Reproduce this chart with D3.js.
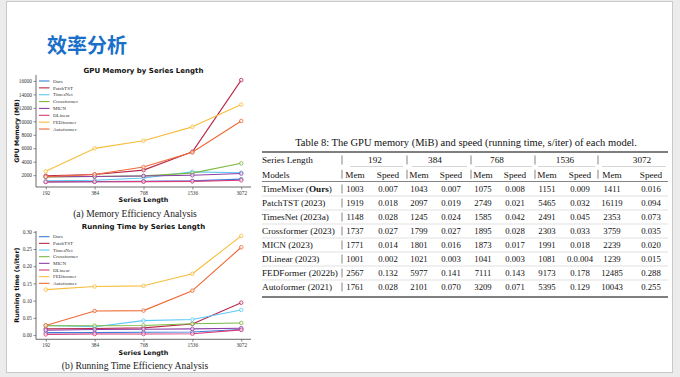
<!DOCTYPE html>
<html>
<head>
<meta charset="utf-8">
<script src="https://cdn.jsdelivr.net/npm/d3@7"></script>
<style>
  body { margin: 0; background: #ececec; }
  svg { display: block; }
</style>
</head>
<body>
<div id="slide"></div>
<script>
// Données du tableau 8 (mémoire GPU en MiB, vitesse en s/iter)
const seriesLengths = ["192", "384", "768", "1536", "3072"];
const models = ["Ours", "PatchTST", "TimesNet", "Crossformer", "MICN", "DLinear", "FEDformer", "Autoformer"];
const tableModels = ["TimeMixer", "PatchTST (2023)", "TimesNet (2023a)", "Crossformer (2023)", "MICN (2023)", "DLinear (2023)", "FEDFormer (2022b)", "Autoformer (2021)"];
const colors = ["#3c7ddb", "#b8284a", "#5cc9f7", "#7cb843", "#8e3fa8", "#d93a78", "#f7bd3c", "#ef6935"];

const memData = [
    [1003, 1043, 1075, 1151, 1411],
    [1919, 2097, 2749, 5465, 16119],
    [1148, 1245, 1585, 2491, 2353],
    [1737, 1799, 1895, 2303, 3759],
    [1771, 1801, 1873, 1991, 2239],
    [1001, 1021, 1041, 1081, 1239],
    [2567, 5977, 7111, 9173, 12485],
    [1761, 2101, 3209, 5395, 10043]
];
const speedData = [
    [0.007, 0.007, 0.008, 0.009, 0.016],
    [0.018, 0.019, 0.021, 0.032, 0.094],
    [0.028, 0.024, 0.042, 0.045, 0.073],
    [0.027, 0.027, 0.028, 0.033, 0.035],
    [0.014, 0.016, 0.017, 0.018, 0.020],
    [0.002, 0.003, 0.003, 0.004, 0.015],
    [0.132, 0.141, 0.143, 0.178, 0.288],
    [0.028, 0.070, 0.071, 0.129, 0.255]
];
const memTicks = [2000, 4000, 6000, 8000, 10000, 12000, 14000, 16000];
const speedTicks = [0, 0.05, 0.10, 0.15, 0.20, 0.25, 0.30];
// texte tel qu'imprimé dans le tableau (coquille d'origine)
const speedTextOverride = { "5-3": "0.0.004" };

const W = 680, H = 377;
const svg = d3.select("#slide").append("svg").attr("width", W).attr("height", H);

// Fond de la diapo
svg.append("rect").attr("x", 0).attr("y", 0).attr("width", W).attr("height", H).attr("fill", "#ececec");
svg.append("rect").attr("x", 6.5).attr("y", 1.5).attr("width", 666).attr("height", 371)
    .attr("fill", "#fff").attr("stroke", "#c9c9c9").attr("stroke-width", 1);

svg.append("text")
    .attr("x", 47).attr("y", 52.5)
    .attr("font-family", "'Noto Sans CJK SC', sans-serif")
    .attr("font-weight", 700).attr("font-size", 20)
    .attr("fill", "#1a6fc9")
    .text("效率分析");

/**
 * Petit graphique en lignes façon matplotlib.
 */
function drawLineChart(cfg) {
    const g = svg.append("g");
    const x = d3.scalePoint().domain(d3.range(seriesLengths.length))
        .range([cfg.left, cfg.right]).padding(0.2);
    const y = d3.scaleLinear().domain(cfg.yDomain).range([cfg.bottom, cfg.top]);

    // Titre
    g.append("text").attr("x", (cfg.left + cfg.right) / 2).attr("y", cfg.titleY)
        .attr("text-anchor", "middle")
        .attr("font-family", "'DejaVu Sans', sans-serif")
        .attr("font-weight", 700).attr("font-size", 7)
        .attr("fill", "#111").text(cfg.title);

    // Axe Y
    const yAxis = d3.axisLeft(y).tickValues(cfg.yTicks).tickSize(2.5).tickPadding(1.5)
        .tickFormat(cfg.yFormat);
    const ya = g.append("g").attr("transform", `translate(${cfg.left},0)`).call(yAxis);
    ya.select(".domain").attr("d", `M0,${cfg.top}V${cfg.bottom}`);

    // Axe X
    const xAxis = d3.axisBottom(x).tickSize(2.5).tickPadding(1.5)
        .tickFormat(i => seriesLengths[i]);
    const xa = g.append("g").attr("transform", `translate(0,${cfg.bottom})`).call(xAxis);
    xa.select(".domain").attr("d", `M${cfg.left},0H${cfg.right}`);

    g.selectAll(".domain").attr("stroke", "#444").attr("stroke-width", 0.8);
    g.selectAll(".tick line").attr("stroke", "#444").attr("stroke-width", 0.6);
    g.selectAll(".tick text")
        .attr("font-family", "'Liberation Serif', serif")
        .attr("font-size", 5.3).attr("fill", "#333");

    // Libellés d'axes
    g.append("text").attr("x", (cfg.left + cfg.right) / 2).attr("y", cfg.xLabelY)
        .attr("text-anchor", "middle")
        .attr("font-family", "'DejaVu Sans', sans-serif")
        .attr("font-weight", 700).attr("font-size", 6.4)
        .attr("fill", "#111").text("Series Length");
    g.append("text")
        .attr("transform", `translate(19,${(cfg.top + cfg.bottom) / 2}) rotate(-90)`)
        .attr("text-anchor", "middle")
        .attr("font-family", "'DejaVu Sans', sans-serif")
        .attr("font-weight", 700).attr("font-size", cfg.yLabelSize)
        .attr("fill", "#111").text(cfg.yLabel);

    // Séries
    const line = d3.line().x((d, i) => x(i)).y(d => y(d));
    cfg.data.forEach((vals, k) => {
        g.append("path").attr("d", line(vals))
            .attr("fill", "none").attr("stroke", colors[k])
            .attr("stroke-width", 1.1).attr("stroke-linejoin", "round");
        g.selectAll(null).data(vals).enter().append("circle")
            .attr("cx", (d, i) => x(i)).attr("cy", d => y(d)).attr("r", 1.8)
            .attr("fill", "#fff").attr("fill-opacity", 0.6)
            .attr("stroke", colors[k]).attr("stroke-width", 0.8);
    });

    // Légende
    const leg = g.append("g");
    models.forEach((m, k) => {
        const ly = cfg.legendY + k * cfg.legendStep;
        leg.append("line").attr("x1", 39).attr("x2", 49.5).attr("y1", ly).attr("y2", ly)
            .attr("stroke", colors[k]).attr("stroke-width", 1.1);
        leg.append("text").attr("x", 53).attr("y", ly + 1.7)
            .attr("font-family", "'Liberation Serif', serif")
            .attr("font-size", 5).attr("fill", "#333").text(m);
    });

    // Légende de figure
    g.append("text").attr("x", 135).attr("y", cfg.captionY)
        .attr("text-anchor", "middle")
        .attr("font-family", "'Liberation Serif', serif")
        .attr("font-size", 9.6).attr("fill", "#222").text(cfg.caption);
}

drawLineChart({
    title: "GPU Memory by Series Length", titleY: 72.5,
    left: 36, right: 251, top: 75, bottom: 187,
    yDomain: [245, 16875], yTicks: memTicks, yFormat: d3.format("d"),
    yLabel: "GPU Memory (MB)", yLabelSize: 6.2,
    xLabelY: 201.5, data: memData,
    legendY: 81, legendStep: 6.86,
    caption: "(a) Memory Efficiency Analysis", captionY: 217
});

drawLineChart({
    title: "Running Time by Series Length", titleY: 228.5,
    left: 36, right: 251, top: 231, bottom: 339.3,
    yDomain: [-0.0123, 0.3023], yTicks: speedTicks, yFormat: d3.format(".2f"),
    yLabel: "Running time (s/iter)", yLabelSize: 6.4,
    xLabelY: 355, data: speedData,
    legendY: 236.7, legendStep: 6.66,
    caption: "(b) Running Time Efficiency Analysis", captionY: 369
});

// Tableau 8
const tbl = svg.append("g")
    .attr("font-family", "'Liberation Serif', 'Times New Roman', serif")
    .attr("fill", "#111");
const tLeft = 262, tRight = 668;
const memX = [355, 419, 483, 547, 612];
const speedX = [388, 451, 515, 580, 651];
const groupX = [375, 435, 497, 565, 642];
const barX = [342, 407, 471, 535, 598];
const cmid = [[350, 403], [412, 467], [475, 532], [538, 595], [602, 666]];
const fs = 9.2, fsNum = 8.7;

tbl.append("text").attr("x", 466).attr("y", 146)
    .attr("text-anchor", "middle").attr("font-size", 10.5)
    .text("Table 8: The GPU memory (MiB) and speed (running time, s/iter) of each model.");

function hrule(y, w, c) {
    tbl.append("line").attr("x1", tLeft).attr("x2", tRight).attr("y1", y).attr("y2", y)
        .attr("stroke", c).attr("stroke-width", w);
}
function vbar(xx, cy) {
    tbl.append("line").attr("x1", xx).attr("x2", xx).attr("y1", cy - 4.5).attr("y2", cy + 4.5)
        .attr("stroke", "#333").attr("stroke-width", 0.6);
}

hrule(152, 1.4, "#555");
// ligne 1 : longueurs
tbl.append("text").attr("x", tLeft).attr("y", 163.2).attr("font-size", fs).text("Series Length");
seriesLengths.forEach((s, i) => {
    tbl.append("text").attr("x", groupX[i]).attr("y", 163.2).attr("text-anchor", "middle")
        .attr("font-size", fs).text(s);
    vbar(barX[i], 160);
    tbl.append("line").attr("x1", cmid[i][0]).attr("x2", cmid[i][1]).attr("y1", 166.5).attr("y2", 166.5)
        .attr("stroke", "#bbb").attr("stroke-width", 0.6);
});
// ligne 2 : Mem / Speed
tbl.append("text").attr("x", tLeft).attr("y", 177.5).attr("font-size", fs).text("Models");
seriesLengths.forEach((s, i) => {
    tbl.append("text").attr("x", memX[i]).attr("y", 177.5).attr("text-anchor", "middle")
        .attr("font-size", fs).text("Mem");
    tbl.append("text").attr("x", speedX[i]).attr("y", 177.5).attr("text-anchor", "middle")
        .attr("font-size", fs).text("Speed");
    vbar(barX[i], 174.3);
});
hrule(181.5, 0.8, "#666");

// lignes de données
tableModels.forEach((m, r) => {
    const cy = 189 + r * 14;
    const t = tbl.append("text").attr("x", tLeft).attr("y", cy + 3.2).attr("font-size", fs);
    if (r === 0) {
        t.append("tspan").text("TimeMixer (");
        t.append("tspan").attr("font-weight", 700).text("Ours");
        t.append("tspan").text(")");
    } else {
        t.text(m);
    }
    vbar(barX[0], cy);
    memData[r].forEach((v, i) => {
        tbl.append("text").attr("x", memX[i]).attr("y", cy + 3.2).attr("text-anchor", "middle")
            .attr("font-size", fsNum).text(v);
        const sTxt = speedTextOverride[`${r}-${i}`] || d3.format(".3f")(speedData[r][i]);
        tbl.append("text").attr("x", speedX[i]).attr("y", cy + 3.2).attr("text-anchor", "middle")
            .attr("font-size", fsNum).text(sTxt);
    });
    if (r < tableModels.length - 1) hrule(cy + 7, 0.6, "#ccc");
});
hrule(297, 1.4, "#555");
</script>
</body>
</html>
